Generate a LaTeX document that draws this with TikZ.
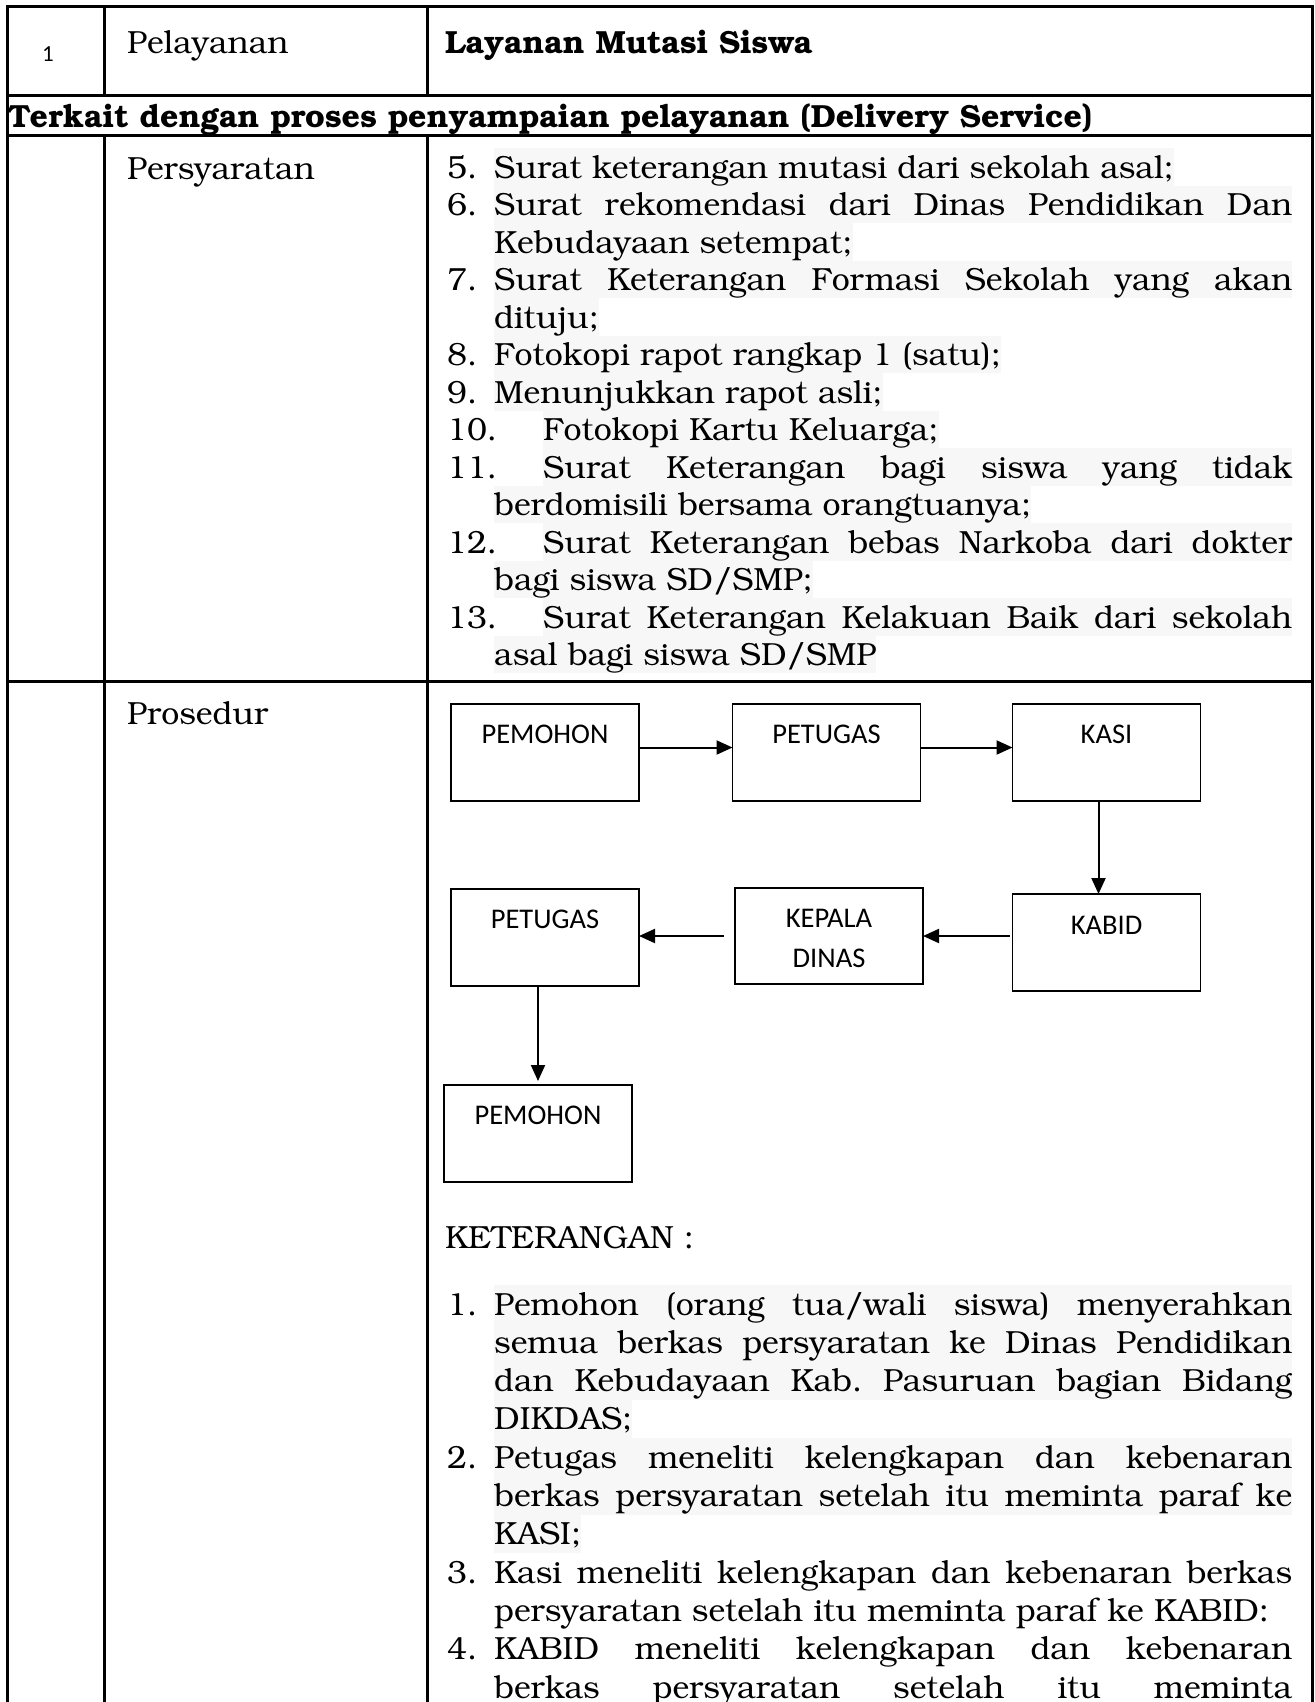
\documentclass[tikz,border=0pt]{standalone}
\usepackage[T1,TU]{fontenc}
\usepackage{fontspec}
\newfontfamily\calibri{Carlito}
\usetikzlibrary{arrows.meta}
\definecolor{sorot}{HTML}{F7F7F7}
\newcommand{\bkfont}{\fontencoding{T1}\fontfamily{pbk}\fontseries{l}\fontshape{n}\fontsize{32}{37.5}\selectfont}
\newcommand{\bkbold}{\fontencoding{T1}\fontfamily{pbk}\fontseries{db}\fontshape{n}\fontsize{32}{37.5}\selectfont}
\newcommand{\rata}[1]{\makebox[798pt][s]{#1}}
\newcommand{\ratap}[1]{\makebox[749pt][s]{#1}}
\frenchspacing

\begin{document}
\begin{tikzpicture}[x=1pt, y=-1pt, >={Triangle[length=16pt, width=14pt]},
  garis/.style={line width=3pt},
  isi/.style={anchor=base west, inner sep=0pt, font=\bkfont},
  judul/.style={anchor=base west, inner sep=0pt, font=\bkbold},
  hl/.style={isi, fill=sorot, text height=30pt, text depth=7.5pt},
  hlb/.style={isi, fill=sorot, text height=30pt, text depth=8.3pt},
  kotak/.style={draw, line width=1.8pt, minimum width=188pt, minimum height=97pt, inner sep=0pt, outer sep=0pt},
  tulisan/.style={anchor=base, inner sep=0pt, font=\calibri\fontsize{28.5}{34}\selectfont},
  panah/.style={->, line width=2pt}]

\useasboundingbox (0,0) rectangle (1314,1702);

% Table rules
\draw[garis, line join=miter] (7,1702) -- (7,7) -- (1312,7) -- (1312,1702);
\draw[garis] (7,95) -- (1312,95);
\draw[garis] (7,135) -- (1312,135);
\draw[garis] (7,681) -- (1312,681);
\draw[garis] (104,7) -- (104,95);
\draw[garis] (104,135) -- (104,1702);
\draw[garis] (427,7) -- (427,95);
\draw[garis] (427,135) -- (427,1702);

% Row 1
\node[anchor=base, inner sep=0pt, font=\calibri\fontsize{23}{28}\selectfont] (nomor) at (48,62) {1};
\node[isi] (pelayanan) at (127,53) {Pelayanan};
\node[judul] (layanan) at (445,53) {Layanan Mutasi Siswa};

% Row 2
\node[judul] (terkait) at (8,127) {Terkait dengan proses penyampaian pelayanan (Delivery Service)};

% Persyaratan
\node[isi] (persyaratan) at (127,179) {Persyaratan};
\node[isi] (n5) at (447,178) {5.};
\node[hl] (s5) at (494,178) {Surat keterangan mutasi dari sekolah asal;};
\node[isi] (n6) at (447,215.5) {6.};
\node[hl] (s6a) at (494,215.5) {\rata{Surat rekomendasi dari Dinas Pendidikan Dan}};
\node[hl] (s6b) at (494,253) {Kebudayaan setempat;};
\node[isi] (n7) at (447,290.5) {7.};
\node[hl] (s7a) at (494,290.5) {\rata{Surat Keterangan Formasi Sekolah yang akan}};
\node[hl] (s7b) at (494,328) {dituju;};
\node[isi] (n8) at (447,365.5) {8.};
\node[hl] (s8) at (494,365.5) {Fotokopi rapot rangkap 1 (satu);};
\node[isi] (n9) at (447,403) {9.};
\node[hl] (s9) at (494,403) {Menunjukkan rapot asli;};
\node[isi] (n10) at (447,440.5) {10.};
\node[hl] (s10) at (543,440.5) {Fotokopi Kartu Keluarga;};
\node[isi] (n11) at (447,478) {11.};
\node[hl] (s11a) at (543,478) {\ratap{Surat Keterangan bagi siswa yang tidak}};
\node[hl] (s11b) at (494,515.5) {berdomisili bersama orangtuanya;};
\node[isi] (n12) at (447,553) {12.};
\node[hl] (s12a) at (543,553) {\ratap{Surat Keterangan bebas Narkoba dari dokter}};
\node[hl] (s12b) at (494,590.5) {bagi siswa SD/SMP;};
\node[isi] (n13) at (447,628) {13.};
\node[hl] (s13a) at (543,628) {\ratap{Surat Keterangan Kelakuan Baik dari sekolah}};
\node[hl] (s13b) at (494,665.5) {asal bagi siswa SD/SMP};

% Prosedur
\node[isi] (prosedur) at (127,724) {Prosedur};

% Flow boxes
\node[kotak] (pemohon1) at (545,752.5) {};
\node[kotak] (petugas1) at (826.5,752.5) {};
\node[kotak] (kasi) at (1106.5,752.5) {};
\node[kotak] (kabid) at (1106.5,942.5) {};
\node[kotak, minimum height=96pt] (kepala) at (829,936) {};
\node[kotak] (petugas2) at (545,937.5) {};
\node[kotak] (pemohon2) at (538,1133.5) {};

\node[tulisan] (tpemohon1) at ([yshift=-39pt]pemohon1.north) {PEMOHON};
\node[tulisan] (tpetugas1) at ([yshift=-39pt]petugas1.north) {PETUGAS};
\node[tulisan] (tkasi) at ([yshift=-39pt]kasi.north) {KASI};
\node[tulisan] (tkabid) at ([yshift=-40pt]kabid.north) {KABID};
\node[tulisan] (tkepala) at ([yshift=-39pt]kepala.north) {KEPALA};
\node[tulisan] (tdinas) at ([yshift=-79pt]kepala.north) {DINAS};
\node[tulisan] (tpetugas2) at ([yshift=-39pt]petugas2.north) {PETUGAS};
\node[tulisan] (tpemohon2) at ([yshift=-39pt]pemohon2.north) {PEMOHON};

% Arrows
\draw[panah] ([yshift=5pt]pemohon1.east) -- ([yshift=5pt]petugas1.west);
\draw[panah] ([yshift=5pt]petugas1.east) -- ([yshift=5pt]kasi.west);
\draw[panah] ([xshift=-8pt]kasi.south) -- ([xshift=-8pt]kabid.north);
\draw[panah] ([xshift=-3pt]kabid.west |- kepala.east) -- (kepala.east);
\draw[panah] ([xshift=-11pt]kepala.west) -- (petugas2.east |- kepala.west);
\draw[panah] (petugas2.south -| pemohon2.north) -- ([yshift=4pt]pemohon2.north);

% Keterangan
\node[isi] (keterangan) at (445,1248) {KETERANGAN :};
\node[isi] (k1) at (447,1315) {1.};
\node[hlb] (k1a) at (494,1315) {\rata{Pemohon (orang tua/wali siswa) menyerahkan}};
\node[hlb] (k1b) at (494,1353.3) {\rata{semua berkas persyaratan ke Dinas Pendidikan}};
\node[hlb] (k1c) at (494,1391.6) {\rata{dan Kebudayaan Kab. Pasuruan bagian Bidang}};
\node[hlb] (k1d) at (494,1429.9) {DIKDAS;};
\node[isi] (k2) at (447,1468.2) {2.};
\node[hlb] (k2a) at (494,1468.2) {\rata{Petugas meneliti kelengkapan dan kebenaran}};
\node[hlb] (k2b) at (494,1506.5) {\rata{berkas persyaratan setelah itu meminta paraf ke}};
\node[hlb] (k2c) at (494,1544.8) {KASI;};
\node[isi] (k3) at (447,1583.1) {3.};
\node[isi] (k3a) at (494,1583.1) {\rata{Kasi meneliti kelengkapan dan kebenaran berkas}};
\node[isi] (k3b) at (494,1621.4) {persyaratan setelah itu meminta paraf ke KABID:};
\node[isi] (k4) at (447,1659.7) {4.};
\node[isi] (k4a) at (494,1659.7) {\rata{KABID meneliti kelengkapan dan kebenaran}};
\node[isi] (k4b) at (494,1698) {\rata{berkas persyaratan setelah itu meminta}};

\end{tikzpicture}
\end{document}
